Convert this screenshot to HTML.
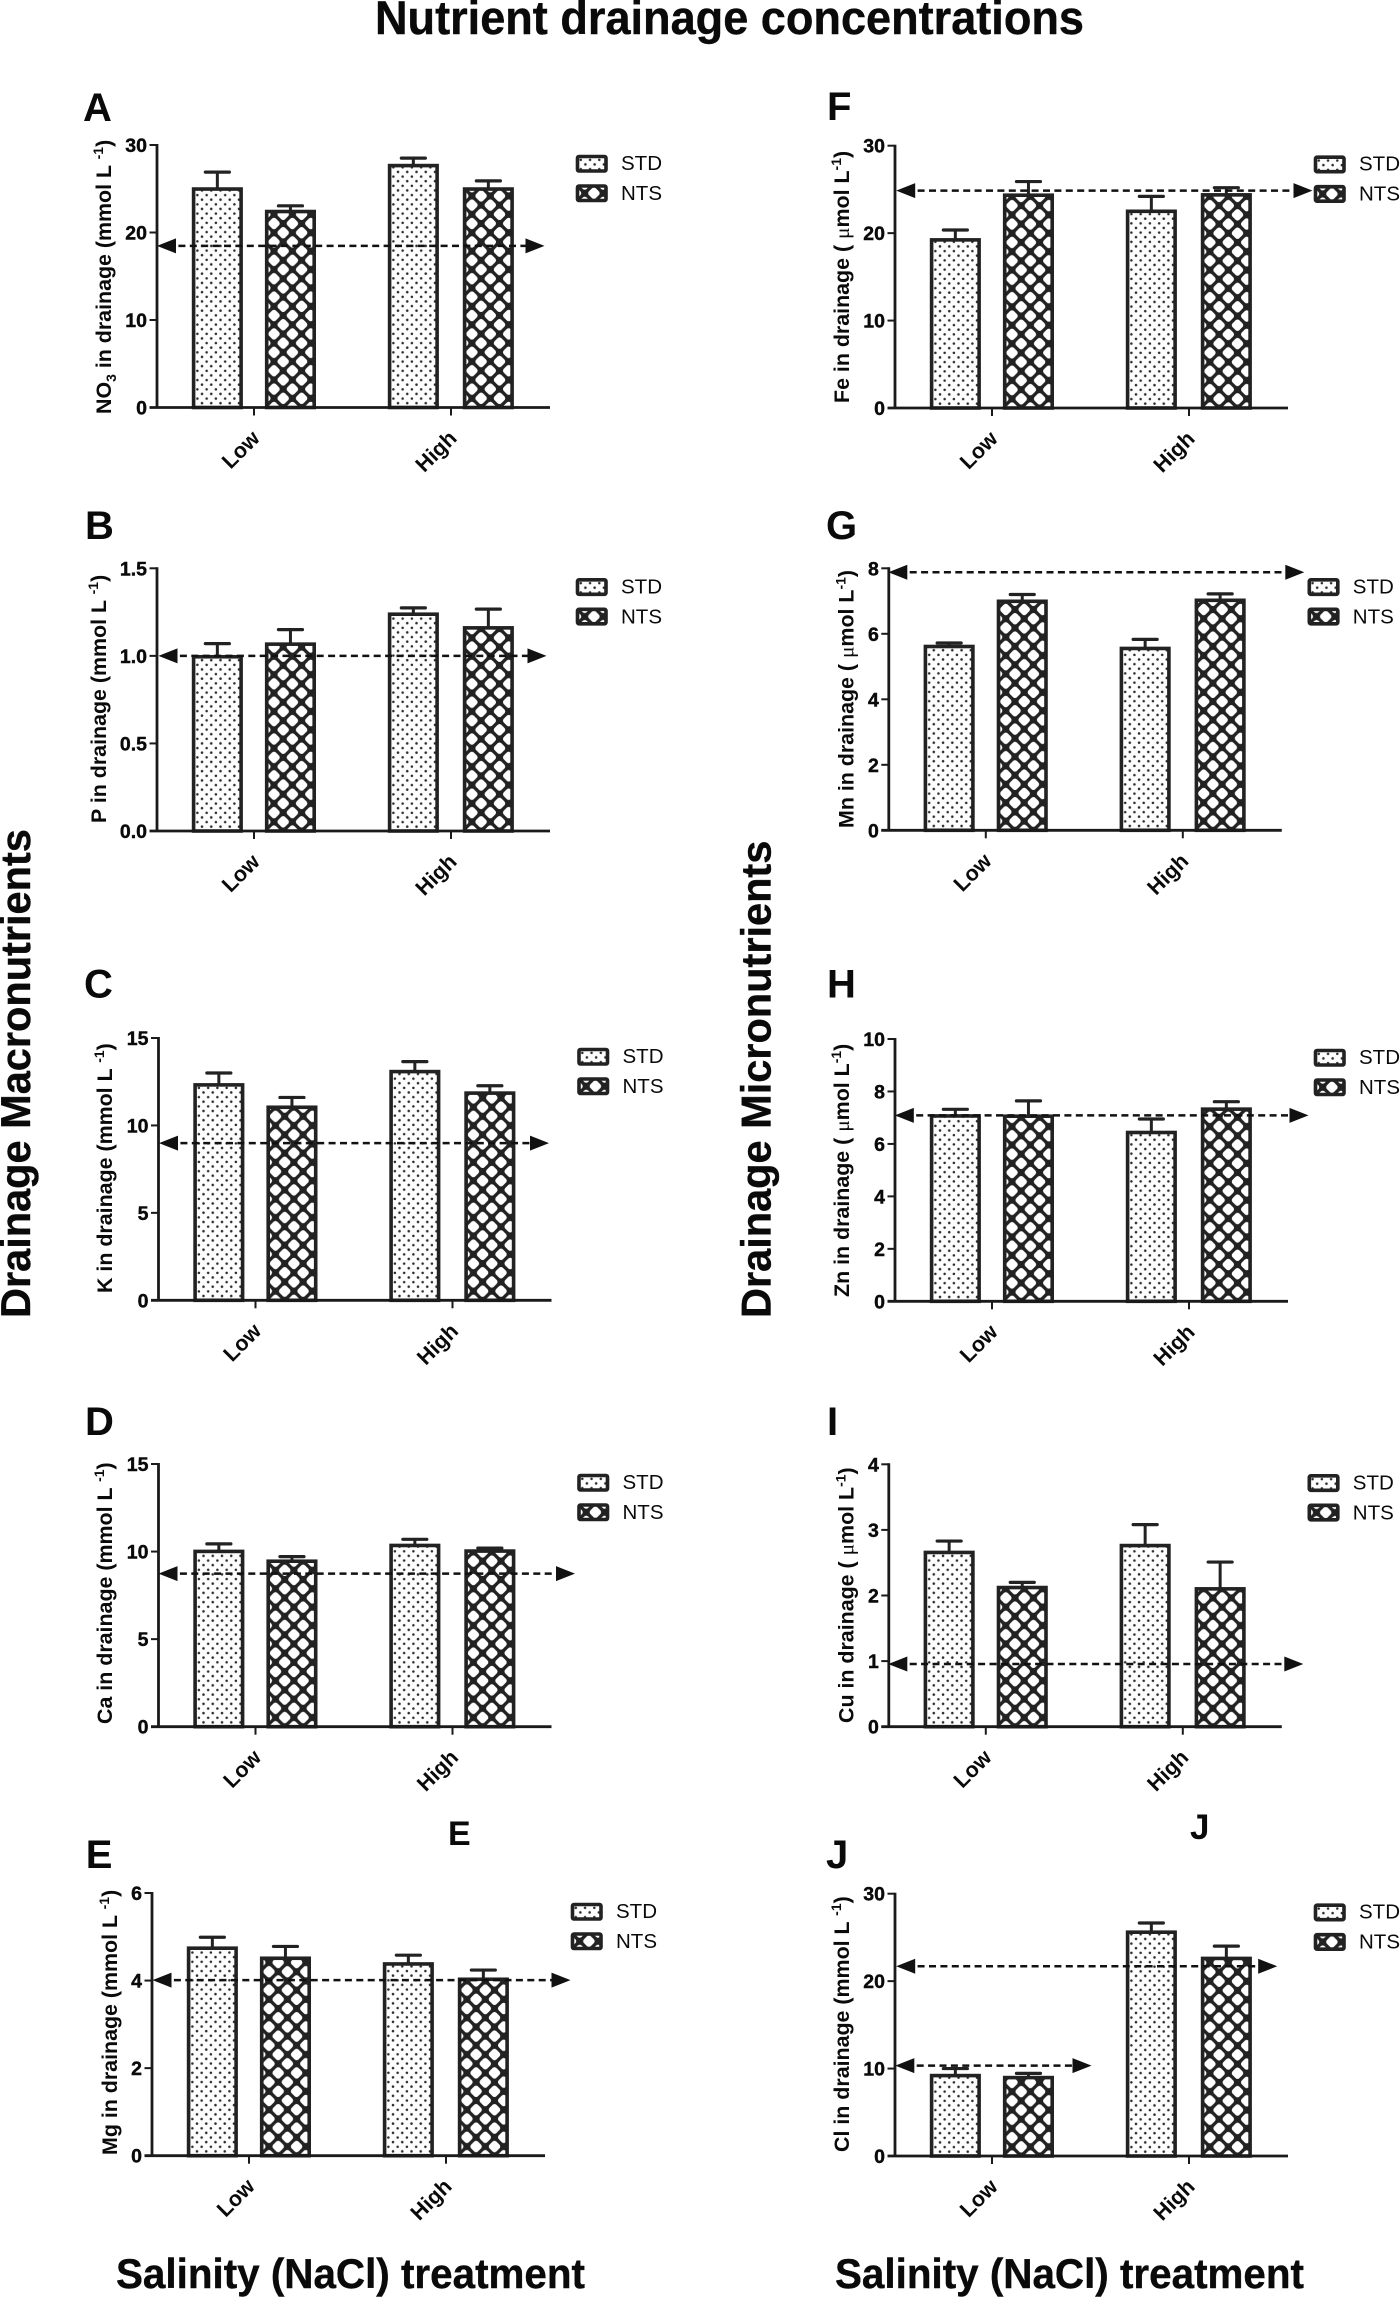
<!DOCTYPE html>
<html lang="en">
<head>
<meta charset="utf-8">
<title>Nutrient drainage concentrations</title>
<style>
html,body{margin:0;padding:0;background:#fff;}
svg{display:block;}
text{font-family:"Liberation Sans",Arial,sans-serif;fill:#0a0a0a;}
.heavy{stroke:#0a0a0a;stroke-width:0.4px;}
</style>
</head>
<body>
<svg id="figure" xmlns="http://www.w3.org/2000/svg" width="1400" height="2298" viewBox="0 0 1400 2298">
  <rect width="1400" height="2298" fill="#fff"/>
  <defs id="defs"></defs>
  <text class="heavy" x="375" y="34" font-size="47" font-weight="bold" textLength="709" lengthAdjust="spacingAndGlyphs">Nutrient drainage concentrations</text>
  <text class="heavy" transform="translate(30,1318) rotate(-90)" font-size="41.5" font-weight="bold">Drainage Macronutrients</text>
  <text class="heavy" transform="translate(770.5,1318) rotate(-90)" font-size="41.5" font-weight="bold">Drainage Micronutrients</text>
  <text class="heavy" x="116" y="2288" font-size="41.5" font-weight="bold" textLength="469" lengthAdjust="spacingAndGlyphs">Salinity (NaCl) treatment</text>
  <text class="heavy" x="835" y="2288" font-size="41.5" font-weight="bold" textLength="469" lengthAdjust="spacingAndGlyphs">Salinity (NaCl) treatment</text>
  <text x="448" y="1845" font-size="34" font-weight="bold" fill="#222">E</text>
  <text x="1190" y="1839" font-size="35" font-weight="bold" fill="#222">J</text>
  <g id="panels"></g>
</svg>
<script>
// ---- chart data ----
const categories = ["Low", "High"];
const seriesNames = ["STD", "NTS"];
const panelLetters = ["A", "B", "C", "D", "E", "F", "G", "H", "I", "J"];
const nutrients = ["NO", "P", "K", "Ca", "Mg", "Fe", "Mn", "Zn", "Cu", "Cl"];
const stdMeans = [[25.07, 27.75], [1.0, 1.243], [12.37, 13.13], [10.06, 10.4], [4.76, 4.4], [19.33, 22.6], [5.64, 5.58], [7.1, 6.47], [2.67, 2.775], [9.3, 25.7]];
const stdUppers = [[26.9, 28.5], [1.07, 1.274], [13.0, 13.65], [10.44, 10.7], [4.99, 4.58], [20.36, 24.2], [5.72, 5.83], [7.32, 6.95], [2.83, 3.08], [10.0, 26.65]];
const ntsMeans = [[22.5, 25.07], [1.072, 1.165], [11.09, 11.9], [9.5, 10.08], [4.53, 4.05], [24.44, 24.48], [7.02, 7.05], [7.09, 7.36], [2.135, 2.115], [9.07, 22.7]];
const ntsUppers = [[23.05, 25.9], [1.15, 1.267], [11.6, 12.27], [9.71, 10.2], [4.78, 4.24], [25.9, 25.2], [7.2, 7.22], [7.64, 7.61], [2.2, 2.51], [9.45, 24.0]];
const refLevels = [[18.47], [1.0], [8.99], [8.74], [4.01], [24.86], [7.88], [7.09], [0.955], [21.7, 10.33]];
const yTickValues = [[0, 10, 20, 30], [0, 0.5, 1, 1.5], [0, 5, 10, 15], [0, 5, 10, 15], [0, 2, 4, 6], [0, 10, 20, 30], [0, 2, 4, 6, 8], [0, 2, 4, 6, 8, 10], [0, 1, 2, 3, 4], [0, 10, 20, 30]];
const yTickLabels = [["0", "10", "20", "30"], ["0.0", "0.5", "1.0", "1.5"], ["0", "5", "10", "15"], ["0", "5", "10", "15"], ["0", "2", "4", "6"], ["0", "10", "20", "30"], ["0", "2", "4", "6", "8"], ["0", "2", "4", "6", "8", "10"], ["0", "1", "2", "3", "4"], ["0", "10", "20", "30"]];
const unitKinds = ["mmol", "mmol", "mmol", "mmol", "mmol", "umol", "umol", "umol", "umol", "mmol"];

// ---- layout (pixels, not data) ----
const layout = [
  {ax:157,   top:145,    y0:407.5,  lx:83,  ly:121,  tx:111,   tb:414,  ref:[[0,387.5]]},
  {ax:157,   top:568.3,  y0:831,    lx:85,  ly:539,  tx:106,   tb:823,  ref:[[1.5,389.5]]},
  {ax:158.5, top:1038,   y0:1300.3, lx:84,  ly:997.7,tx:112,   tb:1293, ref:[[0.5,390.5]]},
  {ax:158.5, top:1464,   y0:1726.7, lx:85,  ly:1435, tx:112,   tb:1724, ref:[[0,416.5]]},
  {ax:152,   top:1893,   y0:2155.7, lx:85.7,ly:1868, tx:117,   tb:2155, ref:[[0.5,418.5]]},
  {ax:895,   top:145.7,  y0:408,    lx:827, ly:120,  tx:849,   tb:403,  ref:[[1.2,417.5]]},
  {ax:888.8, top:568.3,  y0:830.3,  lx:826, ly:539,  tx:853.5, tb:828,  ref:[[-0.5,415.5]]},
  {ax:895,   top:1039,   y0:1301.3, lx:827, ly:997.7,tx:849,   tb:1297, ref:[[-0.2,413.5]]},
  {ax:888.8, top:1464.3, y0:1726.7, lx:827, ly:1435, tx:853.5, tb:1723, ref:[[-0.5,414.5]]},
  {ax:895,   top:1893.7, y0:2156,   lx:826, ly:1868, tx:849,   tb:2152, ref:[[1.2,382.2],[0.3,196.5]]}
];
const SVGNS = "http://www.w3.org/2000/svg";
const INK = "#222";
const barLeft = [[36.6, 232.6], [109.7, 307.6]];
const barW = 47.5;
const barTopInset = 0.9;
const xTickRel = [97, 294];
const root = document.getElementById("panels");
const defs = document.getElementById("defs");

function mk(tag, attrs, parent, txt) {
  const n = document.createElementNS(SVGNS, tag);
  for (const k in attrs) n.setAttribute(k, attrs[k]);
  if (txt !== undefined) n.textContent = txt;
  if (parent) parent.appendChild(n);
  return n;
}
let patId = 0;
function dotPattern(px, py) {
  const id = "d" + (patId++);
  const p = mk("pattern", {id: id, patternUnits: "userSpaceOnUse", x: px, y: py, width: 9.25, height: 9.25}, defs);
  mk("rect", {width: 9.25, height: 9.25, fill: "#fdfdfd"}, p);
  mk("circle", {cx: 2.3, cy: 2.3, r: 1.25, fill: "#2a2a2a"}, p);
  mk("circle", {cx: 6.9, cy: 6.9, r: 1.25, fill: "#2a2a2a"}, p);
  return id;
}
function hatchPattern(px, py) {
  const id = "h" + (patId++);
  const t = 18.4, c = t / 2;
  const p = mk("pattern", {id: id, patternUnits: "userSpaceOnUse", x: px, y: py, width: t, height: t}, defs);
  mk("rect", {width: t, height: t, fill: INK}, p);
  const holes = [[c, 0], [0, c], [t, c], [c, t]];
  holes.forEach(function (h) {
    mk("rect", {x: h[0] - 4.8, y: h[1] - 4.8, width: 9.6, height: 9.6, rx: 2.6, fill: "#fff", transform: "rotate(45 " + h[0] + " " + h[1] + ")"}, p);
  });
  return id;
}

layout.forEach(function (L, i) {
  const g = mk("g", {}, root);
  
  
  const yMax = yTickValues[i][yTickValues[i].length - 1];
  const yScale = function (v) { return L.y0 - v / yMax * (L.y0 - L.top); };

  const letter = mk("text", {x: L.lx, y: L.ly, "font-size": 40, "font-weight": "bold", fill: "#222"}, g, panelLetters[i]);
  
  

  // y axis title
  const title = mk("text", {transform: "translate(" + L.tx + "," + L.tb + ") rotate(-90)", "font-size": 21.4, "font-weight": "bold"}, g);
  
  
  mk("tspan", {}, title, nutrients[i]);
  if (i === 0) {
    mk("tspan", {"font-size": 14, dy: 5}, title, "3");
    mk("tspan", {dy: -5}, title, " in drainage (");
  } else {
    mk("tspan", {}, title, " in drainage (");
  }
  if (unitKinds[i] === "umol") {
    mk("tspan", {}, title, " ");
    mk("tspan", {"font-family": '"Liberation Serif",serif', "font-weight": "normal"}, title, "\u03BC");
    mk("tspan", {}, title, "mol L");
  } else {
    mk("tspan", {}, title, "mmol L ");
  }
  mk("tspan", {"font-size": 14, dy: -8}, title, "-1");
  mk("tspan", {dy: 8}, title, ")");

  // bars and error bars
  seriesNames.forEach(function (name, s) {
    const means = s === 0 ? stdMeans[i] : ntsMeans[i];
    const uppers = s === 0 ? stdUppers[i] : ntsUppers[i];
    categories.forEach(function (cat, c) {
      const xL = L.ax + barLeft[s][c];
      const cx = xL + barW / 2;
      const stem = mk("line", {x1: cx, x2: cx, y1: yScale(means[c]), y2: yScale(uppers[c]), stroke: INK, "stroke-width": 3}, g);
      
      
      const cap = mk("line", {x1: cx - 12, x2: cx + 12, y1: yScale(uppers[c]), y2: yScale(uppers[c]), stroke: INK, "stroke-width": 3.2, "stroke-linecap": "round"}, g);
      
      
      const pid = s === 0 ? dotPattern(xL + 1.5, L.y0 - 2) : hatchPattern(xL - 1.9, L.y0);
      const barTop = yScale(means[c]) + barTopInset;
      const bar = mk("rect", {x: xL, y: barTop, width: barW, height: L.y0 - barTop, fill: "url(#" + pid + ")", stroke: INK, "stroke-width": 3.6}, g);
      
      
    });
  });

  // y axis
  const yAxis = mk("line", {x1: L.ax, x2: L.ax, y1: L.top - 1, y2: L.y0 + 1, stroke: "#1a1a1a", "stroke-width": 2.8}, g);
  
  
  yTickValues[i].forEach(function (v, k) {
    const tick = mk("line", {x1: L.ax - 7.5, x2: L.ax, y1: yScale(v), y2: yScale(v), stroke: "#1a1a1a", "stroke-width": 2}, g);
    
    
    const lab = mk("text", {class: "heavy", x: L.ax - 10, y: yScale(v) + 7, "text-anchor": "end", "font-size": 19.5, "font-weight": "bold"}, g, yTickLabels[i][k]);
    
    
  });

  // x axis
  const xAxis = mk("line", {x1: L.ax - 7.5, x2: L.ax + 393, y1: L.y0, y2: L.y0, stroke: "#1a1a1a", "stroke-width": 2.8}, g);
  
  
  categories.forEach(function (cat, c) {
    const tx = L.ax + xTickRel[c];
    const tick = mk("line", {x1: tx, x2: tx, y1: L.y0, y2: L.y0 + 8, stroke: "#1a1a1a", "stroke-width": 2}, g);
    
    
    const lx = tx + 7, ly = L.y0 + 32;
    const lab = mk("text", {transform: "translate(" + lx + "," + ly + ") rotate(-45)", "text-anchor": "end", "font-size": 21.5, "font-weight": "bold"}, g, cat);
    
    
  });

  // reference lines with arrowheads
  refLevels[i].forEach(function (v, r) {
    const span = L.ref[r];
    const x1 = L.ax + span[0], x2 = L.ax + span[1], y = yScale(v);
    const line = mk("line", {x1: x1 + 10, x2: x2 - 10, y1: y, y2: y, stroke: "#111", "stroke-width": 2.5, "stroke-dasharray": "7 4.4"}, g);
    
    
    const a1 = mk("polygon", {points: x1 + "," + y + " " + (x1 + 19) + "," + (y - 7.5) + " " + (x1 + 19) + "," + (y + 7.5), fill: "#111"}, g);
    
    
    const a2 = mk("polygon", {points: x2 + "," + y + " " + (x2 - 19) + "," + (y - 7.5) + " " + (x2 - 19) + "," + (y + 7.5), fill: "#111"}, g);
    
    
  });

  // legend
  seriesNames.forEach(function (name, s) {
    const sx = L.ax + 420.5, sy = L.top + 11.5 + s * 29.5;
    const pid = s === 0 ? dotPattern(sx + 1, sy + 1) : hatchPattern(sx - 2, sy - 2);
    const sw = mk("rect", {x: sx, y: sy, width: 28.5, height: 14.5, rx: 1.5, fill: "url(#" + pid + ")", stroke: INK, "stroke-width": 3.6}, g);
    
    
    const lt = mk("text", {x: L.ax + 464, y: L.top + 25 + s * 30, "font-size": 20.5}, g, name);
    
    
  });
});
</script>
</body>
</html>
